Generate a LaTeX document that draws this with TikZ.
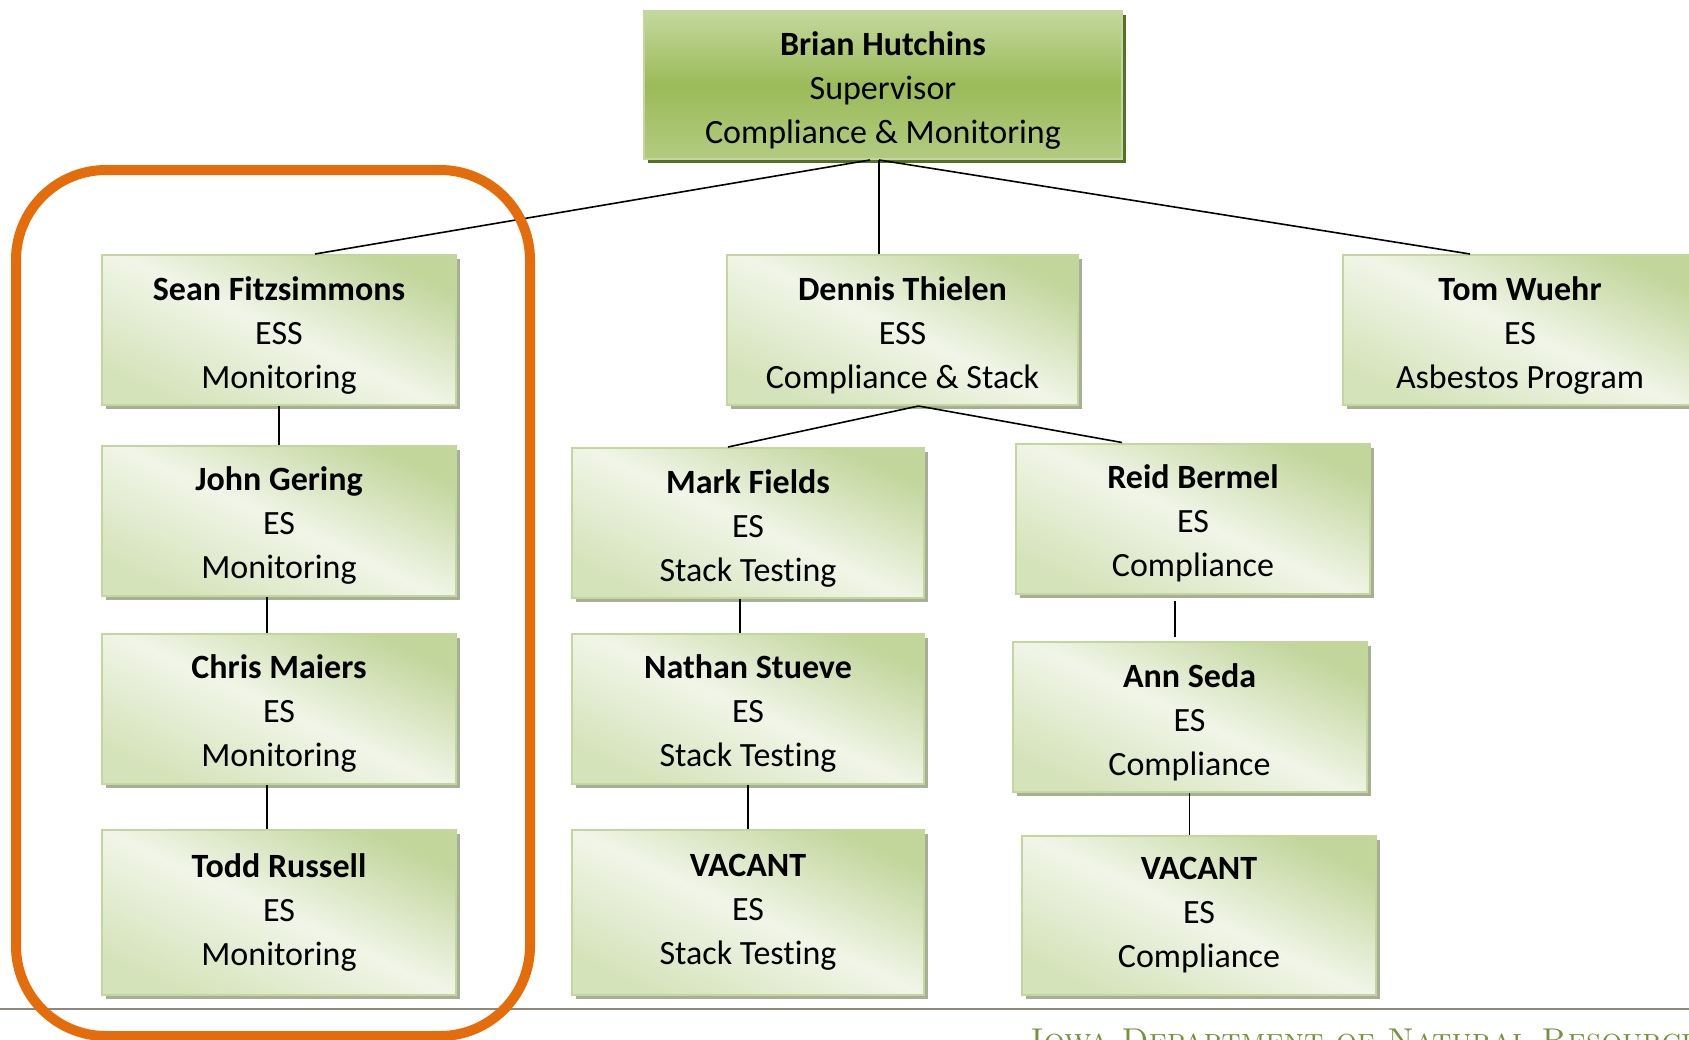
\documentclass[tikz,border=0pt]{standalone}
\usepackage{fontspec}
\usepackage{xcolor}
\usetikzlibrary{shadows}
\newfontfamily\calibri[Ligatures=NoCommon]{Carlito}
\newcommand\who[1]{\rule{0pt}{17pt}\textbf{#1}}
\definecolor{boxline}{HTML}{C3D69B}
\definecolor{boxtop}{HTML}{C2D69C}
\definecolor{boxmid}{HTML}{F1F5E8}
\definecolor{boxbot}{HTML}{D5E3BA}
\definecolor{boxshade}{HTML}{A7AF98}
\definecolor{chieftop}{HTML}{C4D89E}
\definecolor{chiefmid}{HTML}{9BBB59}
\definecolor{chiefbot}{HTML}{B2CB80}
\definecolor{chiefshade}{HTML}{56702C}
\definecolor{frameorange}{HTML}{E46C0A}
\definecolor{footline}{HTML}{8E877D}
\definecolor{footgreen}{HTML}{76923C}

\begin{document}
\begin{tikzpicture}[x=0.5pt, y=-0.5pt,
    staff/.style={draw=boxline, line width=1pt,
        top color=boxtop, bottom color=boxbot, middle color=boxmid, shading angle=-25,
        drop shadow={shadow xshift=2pt, shadow yshift=-2pt, fill=boxshade, opacity=1},
        minimum width=177pt, minimum height=75pt, inner sep=0pt, align=center,
        font=\calibri\fontsize{17}{22}\selectfont},
    chief/.style={draw=boxline, line width=1pt,
        top color=chieftop, bottom color=chiefbot, middle color=chiefmid,
        drop shadow={shadow xshift=2pt, shadow yshift=-2pt, fill=chiefshade, opacity=1},
        minimum width=239pt, minimum height=74pt, inner sep=0pt, align=center,
        font=\calibri\fontsize{17}{22}\selectfont},
    link/.style={line width=0.8pt}]
    \useasboundingbox (0,0) rectangle (1689,1039);

    \node[chief] (hutchins) at (883,85) {\who{Brian Hutchins}\\Supervisor\\Compliance \& Monitoring};

    \node[staff] (fitzsimmons) at (279,330) {\who{Sean Fitzsimmons}\\ESS\\Monitoring};
    \node[staff, minimum width=175.5pt] (thielen) at (902.5,330) {\who{Dennis Thielen}\\ESS\\Compliance \& Stack};
    \node[staff] (wuehr) at (1520,330) {\who{Tom Wuehr}\\ES\\Asbestos Program};

    \node[staff] (gering) at (279,520.5) {\who{John Gering}\\ES\\Monitoring};
    \node[staff, minimum width=176pt] (fields) at (748,523) {\who{Mark Fields}\\ES\\Stack Testing};
    \node[staff] (bermel) at (1193,518.5) {\who{Reid Bermel}\\ES\\Compliance};

    \node[staff] (maiers) at (279,708.5) {\who{Chris Maiers}\\ES\\Monitoring};
    \node[staff, minimum width=176pt] (stueve) at (748,708.5) {\who{Nathan Stueve}\\ES\\Stack Testing};
    \node[staff] (seda) at (1189.5,717) {\who{Ann Seda}\\ES\\Compliance};

    \node[staff, minimum height=82.5pt] (russell) at (279,912.5) {\textbf{Todd Russell}\\ES\\Monitoring};
    \node[staff, minimum width=176pt, minimum height=82.5pt] (vacantst) at (748,912.5) {\textbf{VACANT}\\ES\\Stack Testing};
    \node[staff, minimum height=79.5pt] (vacantco) at (1199,915.5) {\textbf{VACANT}\\ES\\Compliance};

    \draw[link] ([xshift=-6.5pt]hutchins.south) -- ([xshift=18pt]fitzsimmons.north);
    \draw[link] ([xshift=-2pt]hutchins.south) -- ([xshift=-2pt]hutchins.south |- thielen.north);
    \draw[link] ([xshift=-2pt]hutchins.south) -- ([xshift=-25pt]wuehr.north);

    \draw[link] (fitzsimmons.south) -- (gering.north);
    \draw[link] ([xshift=-6pt]gering.south) -- ([xshift=-6pt]maiers.north);
    \draw[link] ([xshift=-6pt]maiers.south) -- ([xshift=-6pt]russell.north);

    \draw[link] ([xshift=8pt]thielen.south) -- ([xshift=-10pt]fields.north);
    \draw[link] ([xshift=8pt]thielen.south) -- ([xshift=-35.5pt]bermel.north);
    \draw[link] ([xshift=-4pt]fields.south) -- ([xshift=-4pt]stueve.north);
    \draw[link] (stueve.south) -- (vacantst.north);
    \coordinate (rb) at ([xshift=-9pt]bermel.south);
    \draw[link] ([yshift=-3pt]rb) -- ([yshift=2pt]rb |- seda.north);
    \draw[link] (seda.south) -- (seda.south |- vacantco.north);

    \draw[footline, line width=1pt] (0,1009) -- (1689,1009);
    \node[anchor=base west, inner sep=0pt, text=footgreen, font=\fontsize{16.5}{19}\selectfont\scshape] (dnr) at (1030,1051) {Iowa Department of Natural Resources};

    \draw[frameorange, line width=5pt, rounded corners=45pt] (16,170) rectangle (530,1036);
\end{tikzpicture}
\end{document}
